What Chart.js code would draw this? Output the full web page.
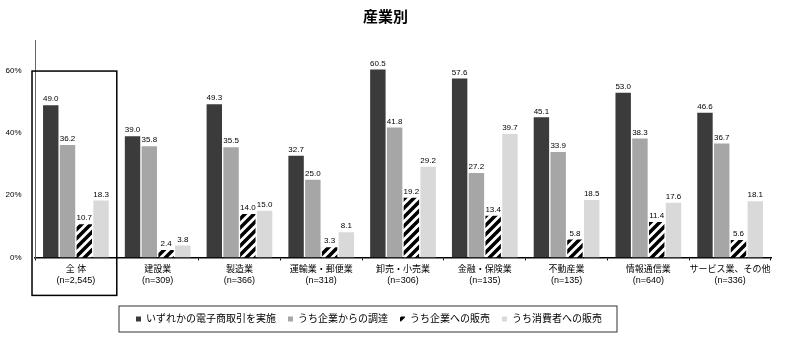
<!DOCTYPE html>
<html>
<head>
<meta charset="utf-8">
<script src="https://cdn.jsdelivr.net/npm/chart.js@4.4.1/dist/chart.umd.min.js"></script>
<style>
  html, body { margin: 0; padding: 0; background: #fff; }
  #wrap { width: 800px; height: 353px; }
</style>
</head>
<body>
<div id="wrap"><canvas id="chart" width="800" height="353"></canvas></div>
<script>
// data
const industries = ['全 体', '建設業', '製造業', '運輸業・郵便業', '卸売・小売業', '金融・保険業', '不動産業', '情報通信業', 'サービス業、その他'];
const sampleSizes = ['n=2,545', 'n=309', 'n=366', 'n=318', 'n=306', 'n=135', 'n=135', 'n=640', 'n=336'];
const seriesNames = ['いずれかの電子商取引を実施', 'うち企業からの調達', 'うち企業への販売', 'うち消費者への販売'];
const anyEC = [49.0, 39.0, 49.3, 32.7, 60.5, 57.6, 45.1, 53.0, 46.6];
const fromBiz = [36.2, 35.8, 35.5, 25.0, 41.8, 27.2, 33.9, 38.3, 36.7];
const toBiz = [10.7, 2.4, 14.0, 3.3, 19.2, 13.4, 5.8, 11.4, 5.6];
const toConsumer = [18.3, 3.8, 15.0, 8.1, 29.2, 39.7, 18.5, 17.6, 18.1];
const yTicks = [0, 20, 40, 60];

const FONT = '"Liberation Sans", "Noto Sans CJK JP", sans-serif';
const LEGEND_SHIFT = -16.5;

// diagonal hatch for the B2B sales series
function makeHatch() {
    const c = document.createElement('canvas');
    c.width = 9; c.height = 9;
    const g = c.getContext('2d');
    g.fillStyle = '#fff';
    g.fillRect(0, 0, 9, 9);
    g.strokeStyle = '#000';
    g.lineWidth = 3.5;
    g.beginPath();
    g.moveTo(-2, 11); g.lineTo(11, -2);
    g.moveTo(-7, 7); g.lineTo(7, -7);
    g.moveTo(2, 16); g.lineTo(16, 2);
    g.stroke();
    return g.createPattern(c, 'repeat');
}
const hatch = makeHatch();

const valueLabels = {
    id: 'valueLabels',
    afterDatasetsDraw(chart) {
        const ctx = chart.ctx;
        ctx.save();
        ctx.font = '8px ' + FONT;
        ctx.fillStyle = '#000';
        ctx.textAlign = 'center';
        ctx.textBaseline = 'bottom';
        chart.data.datasets.forEach((ds, i) => {
            chart.getDatasetMeta(i).data.forEach((bar, j) => {
                ctx.fillText(ds.data[j].toFixed(1), bar.x, bar.y - 2);
            });
        });
        ctx.restore();
    }
};

// the legend sits a little left of centre in the original
const legendShift = {
    id: 'legendShift',
    afterUpdate(chart) {
        const lg = chart.legend;
        lg.left += LEGEND_SHIFT;
        lg.right += LEGEND_SHIFT;
        lg.legendHitBoxes.forEach(b => { b.left += LEGEND_SHIFT; });
    }
};

// frame round the 全体 group and round the legend
const frames = {
    id: 'frames',
    afterDraw(chart) {
        const ctx = chart.ctx;
        const x = chart.scales.x, y = chart.scales.y;
        const left = x.left - 3;
        const right = (x.getPixelForValue(0) + x.getPixelForValue(1)) / 2;
        const top = y.getPixelForValue(60);
        const bottom = chart.chartArea.bottom + 38;
        ctx.save();
        ctx.strokeStyle = '#000';
        ctx.lineWidth = 1.5;
        ctx.strokeRect(left, top, right - left, bottom - top);

        const boxes = chart.legend.legendHitBoxes;
        if (boxes && boxes.length) {
            const l = Math.min(...boxes.map(b => b.left)) - 17;
            const r = Math.max(...boxes.map(b => b.left + b.width)) + 15;
            const t = Math.min(...boxes.map(b => b.top)) - 8;
            const bt = Math.max(...boxes.map(b => b.top + b.height)) + 8;
            ctx.lineWidth = 1;
            ctx.strokeStyle = '#333';
            ctx.strokeRect(l, t, r - l, bt - t);
        }
        ctx.restore();
    }
};

new Chart(document.getElementById('chart'), {
    type: 'bar',
    data: {
        labels: industries.map((name, i) => [name, '(' + sampleSizes[i] + ')']),
        datasets: [
            { label: seriesNames[0], data: anyEC, backgroundColor: '#3b3b3b' },
            { label: seriesNames[1], data: fromBiz, backgroundColor: '#a6a6a6' },
            { label: seriesNames[2], data: toBiz, backgroundColor: hatch },
            { label: seriesNames[3], data: toConsumer, backgroundColor: '#d9d9d9' }
        ]
    },
    options: {
        responsive: false,
        animation: false,
        categoryPercentage: 0.82,
        barPercentage: 0.92,
        layout: { padding: { left: 0, right: 29, top: 0, bottom: 19 } },
        scales: {
            x: {
                grid: { display: true, drawOnChartArea: false, tickLength: 3, color: '#000' },
                border: { color: '#000', width: 1.5 },
                ticks: { color: '#000', font: { size: 9, family: FONT }, maxRotation: 0, autoSkip: false, padding: 4 },
                afterFit: axis => { axis.height += 12; }
            },
            y: {
                min: 0,
                max: 70,
                afterBuildTicks: axis => { axis.ticks = yTicks.map(v => ({ value: v })); },
                grid: { display: false },
                border: { color: '#666', width: 1 },
                ticks: { color: '#000', font: { size: 8, family: FONT }, padding: 5.5, callback: v => v + '%' }
            }
        },
        plugins: {
            title: {
                display: true,
                text: '産業別',
                color: '#000',
                font: { size: 15, weight: 'bold', family: FONT },
                padding: { top: 9, bottom: 13 }
            },
            legend: {
                position: 'bottom',
                labels: {
                    color: '#000',
                    font: { size: 10, family: FONT },
                    boxWidth: 5,
                    boxHeight: 5,
                    padding: 12
                }
            },
            tooltip: { enabled: false }
        }
    },
    plugins: [valueLabels, legendShift, frames]
});
</script>
</body>
</html>
